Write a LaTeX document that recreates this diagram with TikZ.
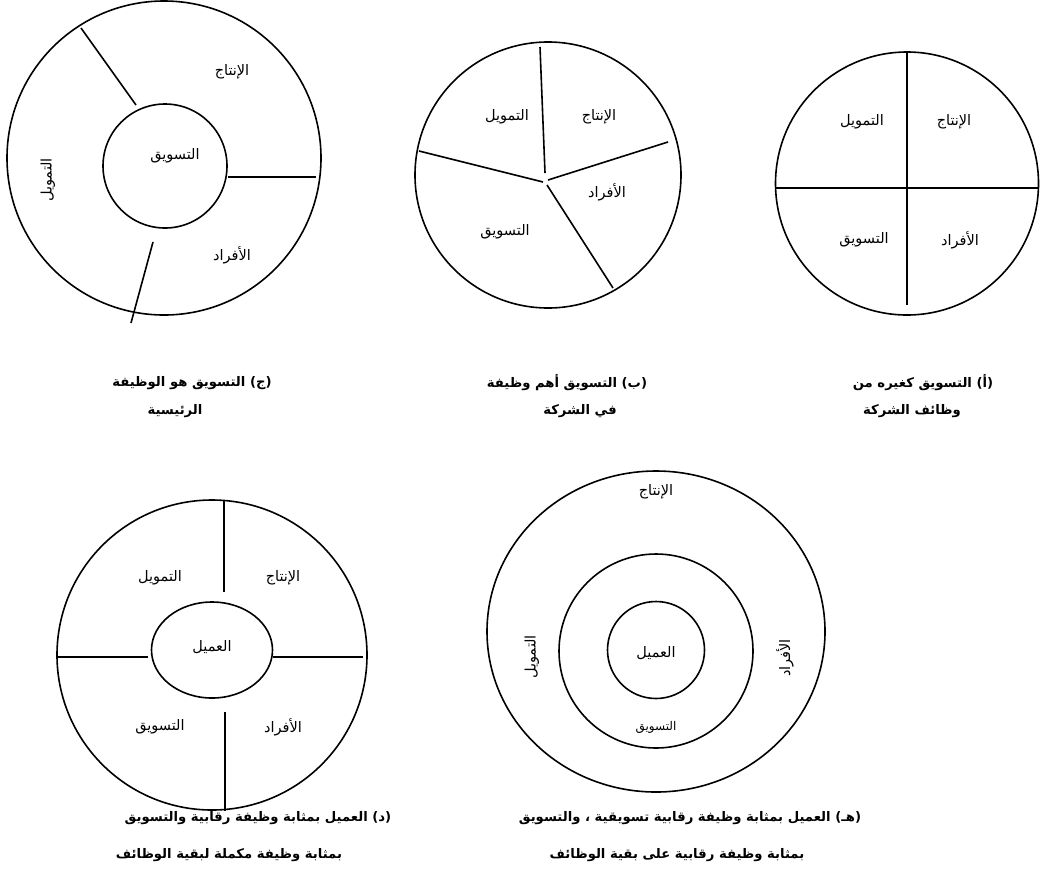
\documentclass[tikz,border=0pt]{standalone}
\usepackage{fontspec}
\usetikzlibrary{shapes.geometric}
\newfontfamily\arabicfont[Script=Arabic]{DejaVu Sans}
\TeXXeTstate=1
\newcommand{\artxt}[1]{\beginR #1\endR}
\begin{document}
\begin{tikzpicture}[x=1pt,y=-1pt,
  ring/.style={draw,circle,line width=1.6pt,inner sep=0pt},
  ell/.style={draw,ellipse,line width=1.6pt,inner sep=0pt},
  divider/.style={line width=1.6pt},
  lbl/.style={font=\arabicfont\fontsize{14.5}{17}\selectfont,inner sep=0pt},
  smalllbl/.style={font=\arabicfont\fontsize{12}{14}\selectfont,inner sep=0pt},
  captxt/.style={font=\arabicfont\bfseries\fontsize{13.2}{16}\selectfont,inner sep=0pt}]
\useasboundingbox (0,0) rectangle (1040,876);

% ---------- (c) ----------
\node[ring,minimum size=314pt] (cOut) at (164,158) {};
\node[ring,minimum size=124pt] (cIn) at (165,166) {};
\coordinate (c1a) at (81,28);  \coordinate (c1b) at (136,105);
\coordinate (c2a) at (228,177); \coordinate (c2b) at (316,177);
\coordinate (c3a) at (153,242); \coordinate (c3b) at (131,323);
\draw[divider] (c1a) -- (c1b);
\draw[divider] (c2a) -- (c2b);
\draw[divider] (c3a) -- (c3b);
\node[lbl] (cP) at (232,72) {\artxt{الإنتاج}};
\node[lbl] (cM) at (175,156) {\artxt{التسويق}};
\node[lbl] (cH) at (232,255) {\artxt{الأفراد}};
\node[lbl,rotate=90] (cF) at (48,180) {\artxt{التمويل}};

% ---------- (b) ----------
\node[ring,minimum size=266pt] (bOut) at (548,175) {};
\coordinate (b1) at (540,47);  \coordinate (b1e) at (545,173);
\coordinate (b2) at (668,142); \coordinate (b2e) at (548,180);
\coordinate (b3) at (419,151); \coordinate (b3e) at (543,182);
\coordinate (b4) at (613,288); \coordinate (b4e) at (547,185);
\draw[divider] (b1) -- (b1e);
\draw[divider] (b2) -- (b2e);
\draw[divider] (b3) -- (b3e);
\draw[divider] (b4e) -- (b4);
\node[lbl] (bF) at (507,117) {\artxt{التمويل}};
\node[lbl] (bP) at (599,117) {\artxt{الإنتاج}};
\node[lbl] (bH) at (607,192) {\artxt{الأفراد}};
\node[lbl] (bM) at (505,232) {\artxt{التسويق}};

% ---------- (a) ----------
\node[ring,minimum size=263pt] (aOut) at (907,183.5) {};
\coordinate (a1) at (907,52); \coordinate (a2) at (907,305);
\coordinate (a3) at (776,188); \coordinate (a4) at (1038,188);
\draw[divider] (a1) -- (a2);
\draw[divider] (a3) -- (a4);
\node[lbl] (aP) at (954,122) {\artxt{الإنتاج}};
\node[lbl] (aF) at (862,122) {\artxt{التمويل}};
\node[lbl] (aH) at (960,240) {\artxt{الأفراد}};
\node[lbl] (aM) at (864,240) {\artxt{التسويق}};

% ---------- top captions ----------
\node[captxt] (capC1) at (192,383) {\artxt{(ج) التسويق هو الوظيفة}};
\node[captxt] (capC2) at (175,411) {\artxt{الرئيسية}};
\node[captxt] (capB1) at (567,383) {\artxt{(ب) التسويق أهم وظيفة}};
\node[captxt] (capB2) at (580,411) {\artxt{في الشركة}};
\node[captxt] (capA1) at (923,383) {\artxt{(أ) التسويق كغيره من}};
\node[captxt] (capA2) at (912,411) {\artxt{وظائف الشركة}};

% ---------- (d) ----------
\node[ring,minimum size=310pt] (dOut) at (212,655) {};
\node[ell,minimum width=121pt,minimum height=96pt] (dIn) at (212,650) {};
\coordinate (d1) at (224,501); \coordinate (d2) at (224,592);
\coordinate (d3) at (57,657);  \coordinate (d4) at (148,657);
\coordinate (d5) at (273,657); \coordinate (d6) at (363,657);
\coordinate (d7) at (225,712); \coordinate (d8) at (225,811);
\draw[divider] (d1) -- (d2);
\draw[divider] (d3) -- (d4);
\draw[divider] (d5) -- (d6);
\draw[divider] (d7) -- (d8);
\node[lbl] (dF) at (160,578) {\artxt{التمويل}};
\node[lbl] (dP) at (283,578) {\artxt{الإنتاج}};
\node[lbl] (dK) at (212,647) {\artxt{العميل}};
\node[lbl] (dM) at (160,727) {\artxt{التسويق}};
\node[lbl] (dH) at (283,727) {\artxt{الأفراد}};
\node[captxt] (capD1) at (258,818) {\artxt{(د) العميل بمثابة وظيفة رقابية والتسويق}};
\node[captxt] (capD2) at (229,855) {\artxt{بمثابة وظيفة مكملة لبقية الوظائف}};

% ---------- (e) ----------
\node[ell,minimum width=338pt,minimum height=321pt] (eOut) at (656,631.5) {};
\node[ring,minimum size=194pt] (eMid) at (656,651) {};
\node[ring,minimum size=97pt] (eIn) at (656,650) {};
\node[lbl] (eP) at (656,492) {\artxt{الإنتاج}};
\node[lbl,rotate=90] (eF) at (532,657) {\artxt{التمويل}};
\node[lbl,rotate=90] (eH) at (785,658) {\artxt{الأفراد}};
\node[lbl] (eK) at (656,653) {\artxt{العميل}};
\node[smalllbl] (eM) at (656,727) {\artxt{التسويق}};
\node[captxt] (capE1) at (690,818) {\artxt{(هـ) العميل بمثابة وظيفة رقابية تسويقية ، والتسويق}};
\node[captxt] (capE2) at (677,855) {\artxt{بمثابة وظيفة رقابية على بقية الوظائف}};
\end{tikzpicture}
\end{document}
